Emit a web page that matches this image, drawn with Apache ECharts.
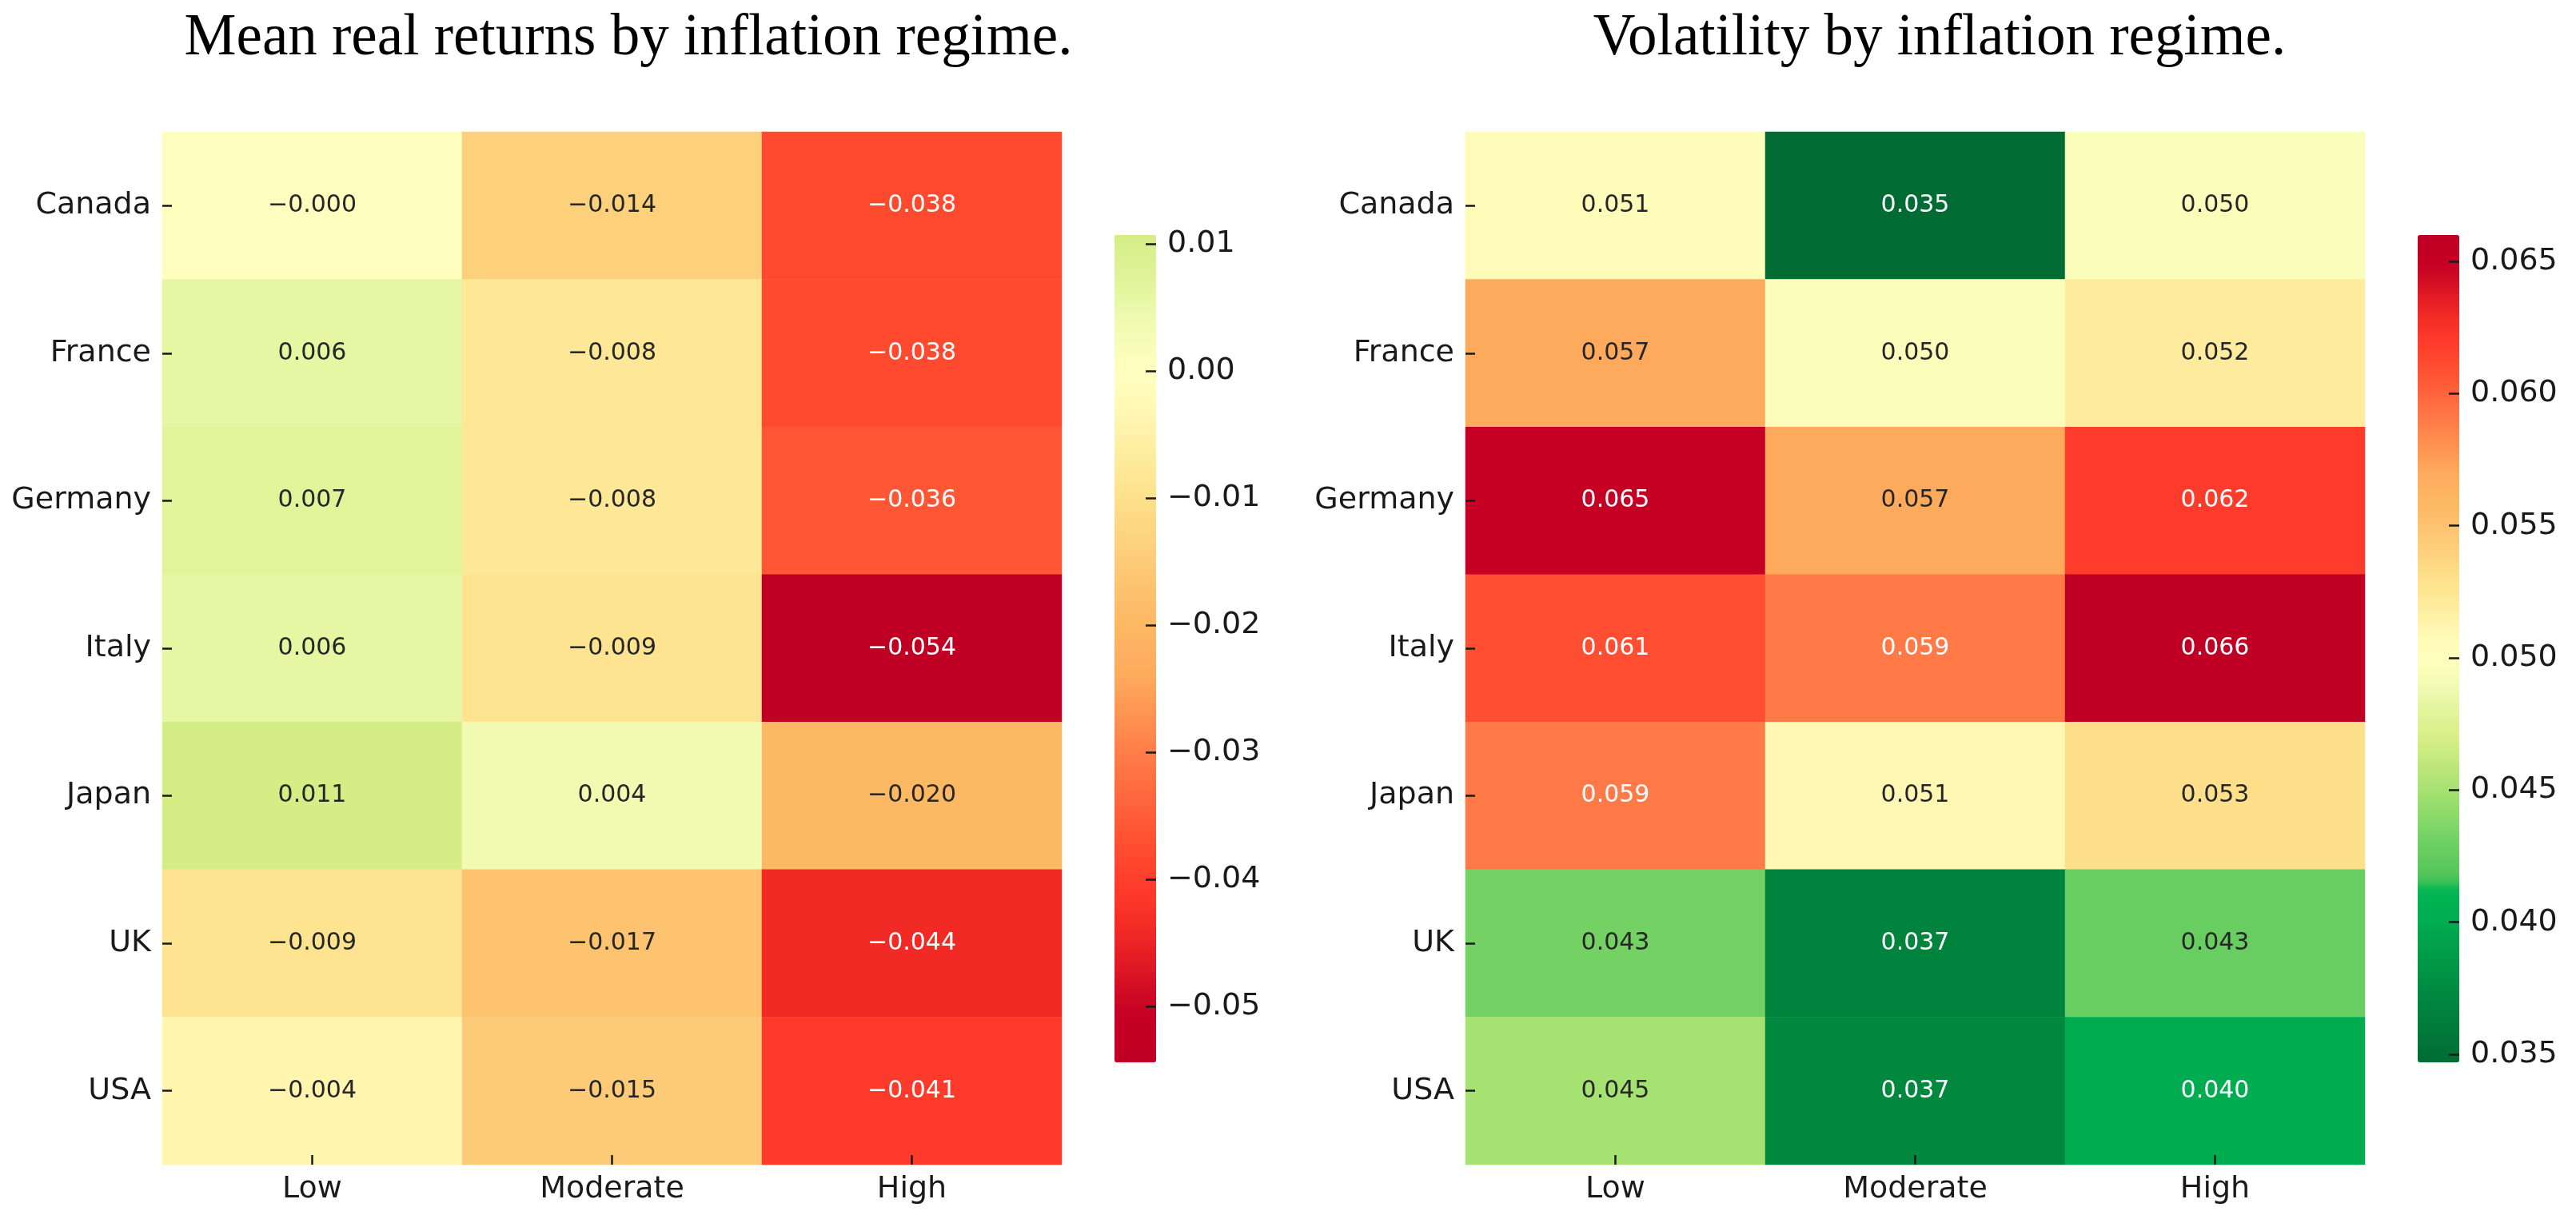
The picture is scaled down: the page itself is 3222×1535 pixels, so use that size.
<!DOCTYPE html>
<html><head><meta charset="utf-8">
<script src="https://cdn.jsdelivr.net/npm/echarts@6/dist/echarts.min.js"></script>
<style>html,body{margin:0;padding:0;background:#fff}#c{width:3222px;height:1535px}</style>
</head><body><div id="c"></div>
<script>
// ---------------- data ----------------
const countries = ['Canada', 'France', 'Germany', 'Italy', 'Japan', 'UK', 'USA'];
const regimes = ['Low', 'Moderate', 'High'];
// mean real returns [Low, Moderate, High]
const meanReturns = [
  [-0.0003, -0.0140, -0.0380],
  [ 0.0060, -0.0080, -0.0380],
  [ 0.0070, -0.0080, -0.0360],
  [ 0.0060, -0.0090, -0.0544],
  [ 0.0107,  0.0040, -0.0200],
  [-0.0090, -0.0170, -0.0440],
  [-0.0040, -0.0150, -0.0410]
];
// volatility [Low, Moderate, High]
const volatility = [
  [0.0506, 0.0347, 0.0497],
  [0.0570, 0.0497, 0.0520],
  [0.0650, 0.0570, 0.0620],
  [0.0610, 0.0590, 0.0660],
  [0.0590, 0.0510, 0.0530],
  [0.0432, 0.0368, 0.0428],
  [0.0450, 0.0372, 0.0400]
];
const returnTicks = [-0.05, -0.04, -0.03, -0.02, -0.01, 0.00, 0.01];
const volTicks = [0.035, 0.040, 0.045, 0.050, 0.055, 0.060, 0.065];
const titles = ['Mean real returns by inflation regime.', 'Volatility by inflation regime.'];
const returnCenter = 0.0;
const volCenter = 0.05;

// ---------------- colormap (red -> yellow -> green) ----------------
const cmapStops = [
  [0.00, '#bf0024'], [0.035, '#c50024'], [0.095, '#f22a25'], [0.125, '#ff3b2b'],
  [0.155, '#ff4d31'], [0.22, '#ff7b47'], [0.28, '#feaa5c'], [0.32, '#fdb964'],
  [0.36, '#fdca77'], [0.41, '#fee28c'], [0.44, '#feec9e'], [0.47, '#fff8b4'],
  [0.50, '#ffffbf'], [0.54, '#eefab0'], [0.56, '#e3f59d'], [0.60, '#d4ed84'],
  [0.66, '#a3e170'], [0.72, '#6dd063'], [0.76, '#52c45a'], [0.775, '#00b753'],
  [0.81, '#00ad50'], [0.90, '#00883f'], [0.98, '#006b33'], [1.00, '#006632']
];
function hex2rgb(h) { return [1, 3, 5].map(i => parseInt(h.substr(i, 2), 16)); }
function rgb2hex(c) { return '#' + c.map(x => Math.round(x).toString(16).padStart(2, '0')).join(''); }
function cmap(p) {
  p = Math.max(0, Math.min(1, p));
  for (let i = 1; i < cmapStops.length; i++) {
    const [p1, c1] = cmapStops[i];
    const [p0, c0] = cmapStops[i - 1];
    if (p <= p1) {
      const t = (p - p0) / (p1 - p0);
      const a = hex2rgb(c0), b = hex2rgb(c1);
      return rgb2hex(a.map((x, k) => x + (b[k] - x) * t));
    }
  }
  return cmapStops[cmapStops.length - 1][1];
}
function luminance(h) {
  const c = hex2rgb(h).map(x => { x /= 255; return x <= 0.03928 ? x / 12.92 : Math.pow((x + 0.055) / 1.055, 2.4); });
  return 0.2126 * c[0] + 0.7152 * c[1] + 0.0722 * c[2];
}
function makeScale(matrix, center, reversed) {
  const flat = matrix.flat();
  const vmin = Math.min(...flat), vmax = Math.max(...flat);
  const vr = Math.max(vmax - center, center - vmin);
  const pos = v => reversed ? 0.5 - (v - center) / (2 * vr) : 0.5 + (v - center) / (2 * vr);
  const colors = [];
  const N = 240;
  for (let i = 0; i <= N; i++) colors.push(cmap(pos(vmin + (vmax - vmin) * i / N)));
  return { vmin, vmax, colorOf: v => cmap(pos(v)), colors };
}
const sRet = makeScale(meanReturns, returnCenter, false);
const sVol = makeScale(volatility, volCenter, true);

const fmt = (v, d) => v.toFixed(d).replace('-', '\u2212');
function buildData(matrix, scale) {
  const out = [];
  matrix.forEach((row, yi) => row.forEach((v, xi) => {
    const col = scale.colorOf(v);
    out.push({ value: [xi, yi, v], label: { color: luminance(col) > 0.408 ? '#262626' : '#ffffff' } });
  }));
  return out;
}

// ---------------- layout ----------------
const GRID_TOP = 165, GRID_H = 1292, GRID_W = 1125;
const gridLefts = [203, 1833];
const cbLefts = [1394, 3024];
const CB_TOP = 294, CB_H = 1035, CB_W = 52;
const titleCenters = [786, 2426];
const SANS = 'DejaVu Sans';
const TXT = '#1a1a1a';

function colorbarAxis(grid, scale, ticks, digits) {
  return {
    type: 'value', gridIndex: grid, position: 'right', min: scale.vmin, max: scale.vmax, z: 10,
    axisLine: { show: false, onZero: false }, splitLine: { show: false },
    axisTick: { show: true, inside: true, length: 13, customValues: ticks, lineStyle: { color: TXT, width: 2.5 } },
    axisLabel: { fontFamily: SANS, fontSize: 38, color: TXT, margin: 14, customValues: ticks, formatter: v => fmt(v, digits) }
  };
}

const option = {
  backgroundColor: '#ffffff',
  animation: false,
  title: titles.map((t, i) => ({
    text: t, left: titleCenters[i], top: 12, textAlign: 'center', padding: 0,
    textStyle: { fontFamily: 'Liberation Serif', fontSize: 73, fontWeight: 'normal', color: '#000' }
  })),
  grid: [
    { left: gridLefts[0], top: GRID_TOP, width: GRID_W, height: GRID_H },
    { left: gridLefts[1], top: GRID_TOP, width: GRID_W, height: GRID_H },
    { left: cbLefts[0], top: CB_TOP, width: CB_W, height: CB_H },
    { left: cbLefts[1], top: CB_TOP, width: CB_W, height: CB_H }
  ],
  xAxis: [0, 1].map(i => ({
    type: 'category', data: regimes, gridIndex: i, position: 'bottom', z: 10,
    axisLine: { show: false, onZero: false },
    axisTick: { show: true, inside: true, alignWithLabel: true, length: 12, lineStyle: { color: TXT, width: 2.5 } },
    axisLabel: { fontFamily: SANS, fontSize: 38, color: TXT, margin: 12 },
    splitLine: { show: false }
  })).concat([2, 3].map(i => ({
    type: 'value', gridIndex: i, show: false, min: 0, max: 1, axisLine: { onZero: false }
  }))),
  yAxis: [0, 1].map(i => ({
    type: 'category', data: countries, gridIndex: i, inverse: true, z: 10,
    axisLine: { show: false, onZero: false },
    axisTick: { show: true, inside: true, alignWithLabel: true, length: 12, lineStyle: { color: TXT, width: 2.5 } },
    axisLabel: { fontFamily: SANS, fontSize: 38, color: TXT, margin: 14 },
    splitLine: { show: false }
  })).concat([
    colorbarAxis(2, sRet, returnTicks, 2),
    colorbarAxis(3, sVol, volTicks, 3)
  ]),
  visualMap: [
    {
      type: 'continuous', seriesIndex: 0, dimension: 2, min: sRet.vmin, max: sRet.vmax,
      calculable: false, realtime: false, hoverLink: false, show: true, orient: 'vertical',
      left: cbLefts[0], top: CB_TOP, itemWidth: CB_W, itemHeight: CB_H, padding: 0, text: null,
      inRange: { color: sRet.colors }
    },
    {
      type: 'continuous', seriesIndex: 1, dimension: 2, min: sVol.vmin, max: sVol.vmax,
      calculable: false, realtime: false, hoverLink: false, show: true, orient: 'vertical',
      left: cbLefts[1], top: CB_TOP, itemWidth: CB_W, itemHeight: CB_H, padding: 0, text: null,
      inRange: { color: sVol.colors }
    }
  ],
  series: [
    {
      type: 'heatmap', xAxisIndex: 0, yAxisIndex: 0, data: buildData(meanReturns, sRet),
      label: { show: true, fontFamily: SANS, fontSize: 30, formatter: p => fmt(p.value[2], 3) },
      emphasis: { disabled: true }
    },
    {
      type: 'heatmap', xAxisIndex: 1, yAxisIndex: 1, data: buildData(volatility, sVol),
      label: { show: true, fontFamily: SANS, fontSize: 30, formatter: p => fmt(p.value[2], 3) },
      emphasis: { disabled: true }
    },
    { type: 'scatter', xAxisIndex: 2, yAxisIndex: 2, data: [], silent: true },
    { type: 'scatter', xAxisIndex: 3, yAxisIndex: 3, data: [], silent: true }
  ]
};
const chart = echarts.init(document.getElementById('c'), null, { renderer: 'canvas' });
chart.setOption(option);
</script>
</body></html>
